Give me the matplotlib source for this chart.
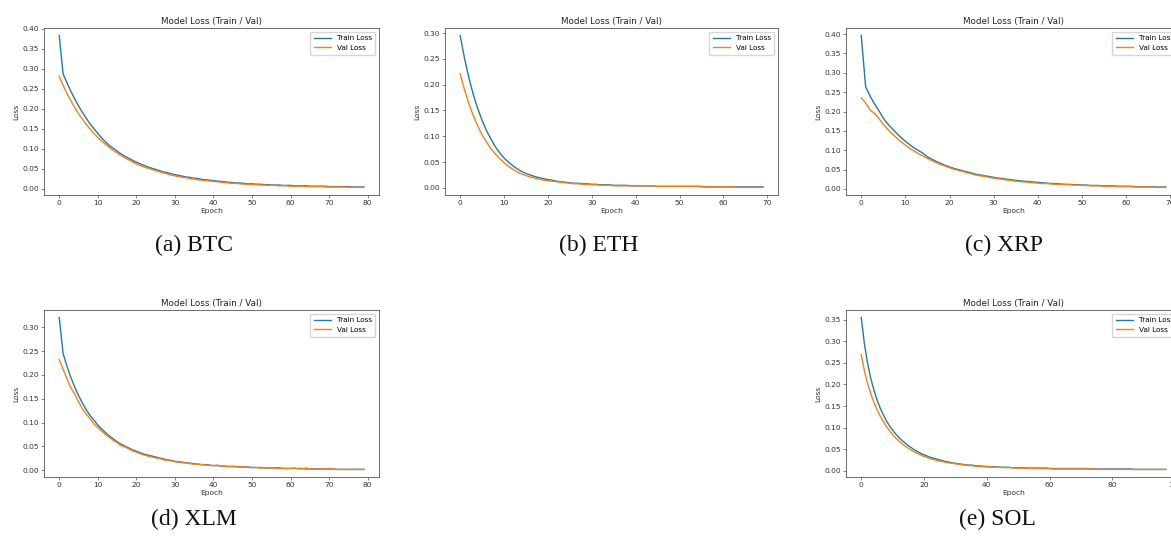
import matplotlib.pyplot as plt

# loss values, one entry per epoch
btc_train = [0.383, 0.287, 0.265, 0.244, 0.225, 0.207, 0.191, 0.176, 0.162, 0.150,
             0.138, 0.127, 0.117, 0.108, 0.101, 0.094, 0.087, 0.081, 0.076, 0.071,
             0.066, 0.062, 0.058, 0.054, 0.051, 0.048, 0.045, 0.042, 0.040, 0.037,
             0.035, 0.033, 0.031, 0.029, 0.028, 0.026, 0.025, 0.023, 0.022, 0.021,
             0.020, 0.019, 0.018, 0.017, 0.016, 0.015, 0.014, 0.014, 0.013, 0.012,
             0.012, 0.011, 0.011, 0.010, 0.010, 0.009, 0.009, 0.009, 0.008, 0.008,
             0.008, 0.007, 0.007, 0.007, 0.007, 0.006, 0.006, 0.006, 0.006, 0.006,
             0.005, 0.005, 0.005, 0.005, 0.005, 0.005, 0.004, 0.004, 0.004, 0.004]
btc_val = [0.281, 0.258, 0.238, 0.220, 0.203, 0.188, 0.174, 0.161, 0.149, 0.138,
           0.128, 0.119, 0.111, 0.103, 0.096, 0.089, 0.083, 0.077, 0.072, 0.067,
           0.062, 0.058, 0.054, 0.051, 0.048, 0.045, 0.042, 0.039, 0.037, 0.034,
           0.032, 0.030, 0.028, 0.027, 0.025, 0.024, 0.022, 0.021, 0.020, 0.019,
           0.018, 0.017, 0.016, 0.015, 0.014, 0.013, 0.013, 0.012, 0.011, 0.011,
           0.010, 0.010, 0.009, 0.009, 0.008, 0.008, 0.008, 0.007, 0.007, 0.007,
           0.006, 0.006, 0.006, 0.006, 0.005, 0.005, 0.005, 0.005, 0.005, 0.004,
           0.004, 0.004, 0.004, 0.004, 0.004, 0.003, 0.003, 0.003, 0.003, 0.003]

eth_train = [0.295, 0.251, 0.213, 0.181, 0.154, 0.131, 0.111, 0.095, 0.080, 0.068,
             0.058, 0.050, 0.043, 0.037, 0.032, 0.028, 0.025, 0.022, 0.020, 0.018,
             0.016, 0.015, 0.013, 0.012, 0.011, 0.010, 0.009, 0.009, 0.008, 0.008,
             0.007, 0.007, 0.006, 0.006, 0.006, 0.005, 0.005, 0.005, 0.005, 0.004,
             0.004, 0.004, 0.004, 0.004, 0.004, 0.003, 0.003, 0.003, 0.003, 0.003,
             0.003, 0.003, 0.003, 0.003, 0.003, 0.003, 0.002, 0.002, 0.002, 0.002,
             0.002, 0.002, 0.002, 0.002, 0.002, 0.002, 0.002, 0.002, 0.002, 0.002]
eth_val = [0.221, 0.190, 0.163, 0.140, 0.120, 0.103, 0.089, 0.076, 0.066, 0.057,
           0.049, 0.042, 0.036, 0.031, 0.027, 0.024, 0.021, 0.019, 0.017, 0.015,
           0.014, 0.013, 0.012, 0.011, 0.010, 0.009, 0.008, 0.008, 0.007, 0.007,
           0.006, 0.006, 0.005, 0.005, 0.005, 0.004, 0.004, 0.004, 0.004, 0.004,
           0.004, 0.004, 0.004, 0.004, 0.004, 0.003, 0.003, 0.003, 0.003, 0.003,
           0.003, 0.003, 0.003, 0.003, 0.003, 0.002, 0.002, 0.002, 0.002, 0.002,
           0.002, 0.002, 0.002, 0.001, 0.001, 0.001, 0.001, 0.001, 0.001, 0.001]

xrp_train = [0.396, 0.264, 0.240, 0.220, 0.202, 0.183, 0.168, 0.156, 0.144, 0.133,
             0.123, 0.114, 0.106, 0.099, 0.092, 0.083, 0.077, 0.071, 0.066, 0.061,
             0.057, 0.053, 0.050, 0.047, 0.044, 0.041, 0.038, 0.036, 0.034, 0.032,
             0.030, 0.028, 0.027, 0.025, 0.024, 0.022, 0.021, 0.020, 0.019, 0.018,
             0.017, 0.016, 0.015, 0.014, 0.014, 0.013, 0.012, 0.012, 0.011, 0.011,
             0.010, 0.010, 0.009, 0.009, 0.009, 0.008, 0.008, 0.008, 0.007, 0.007,
             0.007, 0.007, 0.006, 0.006, 0.006, 0.006, 0.006, 0.005, 0.005, 0.005]
xrp_val = [0.235, 0.222, 0.204, 0.195, 0.182, 0.167, 0.154, 0.143, 0.132, 0.122,
           0.113, 0.105, 0.098, 0.091, 0.085, 0.079, 0.073, 0.068, 0.063, 0.059,
           0.055, 0.051, 0.048, 0.045, 0.042, 0.039, 0.036, 0.034, 0.032, 0.030,
           0.028, 0.026, 0.025, 0.023, 0.022, 0.020, 0.019, 0.018, 0.017, 0.016,
           0.015, 0.014, 0.014, 0.013, 0.012, 0.012, 0.011, 0.011, 0.010, 0.010,
           0.009, 0.009, 0.008, 0.008, 0.008, 0.007, 0.007, 0.007, 0.006, 0.006,
           0.006, 0.006, 0.005, 0.005, 0.005, 0.005, 0.005, 0.004, 0.004, 0.004]

xlm_train = [0.320, 0.245, 0.218, 0.195, 0.175, 0.157, 0.141, 0.127, 0.115, 0.105,
             0.095, 0.087, 0.079, 0.072, 0.066, 0.060, 0.055, 0.051, 0.047, 0.043,
             0.040, 0.037, 0.034, 0.032, 0.030, 0.028, 0.026, 0.024, 0.022, 0.021,
             0.019, 0.018, 0.017, 0.016, 0.015, 0.014, 0.013, 0.012, 0.012, 0.011,
             0.010, 0.010, 0.009, 0.009, 0.008, 0.008, 0.008, 0.007, 0.007, 0.007,
             0.006, 0.006, 0.006, 0.005, 0.005, 0.005, 0.005, 0.005, 0.004, 0.004,
             0.004, 0.004, 0.004, 0.004, 0.003, 0.003, 0.003, 0.003, 0.003, 0.003,
             0.003, 0.003, 0.002, 0.002, 0.002, 0.002, 0.002, 0.002, 0.002, 0.002]
xlm_val = [0.232, 0.212, 0.192, 0.173, 0.160, 0.144, 0.129, 0.118, 0.108, 0.097,
           0.090, 0.082, 0.075, 0.069, 0.063, 0.058, 0.052, 0.049, 0.045, 0.041,
           0.038, 0.035, 0.032, 0.030, 0.028, 0.026, 0.025, 0.022, 0.021, 0.020,
           0.018, 0.017, 0.016, 0.015, 0.014, 0.013, 0.013, 0.012, 0.011, 0.010,
           0.010, 0.011, 0.009, 0.008, 0.008, 0.009, 0.007, 0.007, 0.007, 0.006,
           0.006, 0.006, 0.005, 0.005, 0.005, 0.006, 0.004, 0.004, 0.004, 0.004,
           0.004, 0.005, 0.003, 0.003, 0.005, 0.003, 0.003, 0.002, 0.003, 0.003,
           0.004, 0.003, 0.002, 0.002, 0.002, 0.002, 0.002, 0.002, 0.002, 0.002]

sol_train = [0.355, 0.295, 0.250, 0.215, 0.188, 0.165, 0.146, 0.130, 0.116, 0.104,
             0.094, 0.085, 0.077, 0.070, 0.064, 0.058, 0.053, 0.048, 0.044, 0.040,
             0.037, 0.034, 0.031, 0.029, 0.027, 0.025, 0.023, 0.021, 0.020, 0.018,
             0.017, 0.016, 0.015, 0.014, 0.013, 0.013, 0.012, 0.011, 0.011, 0.010,
             0.010, 0.009, 0.009, 0.009, 0.008, 0.008, 0.008, 0.008, 0.007, 0.007,
             0.007, 0.007, 0.007, 0.006, 0.006, 0.006, 0.006, 0.006, 0.006, 0.006,
             0.005, 0.005, 0.005, 0.005, 0.005, 0.005, 0.005, 0.005, 0.005, 0.005,
             0.005, 0.005, 0.005, 0.004, 0.004, 0.004, 0.004, 0.004, 0.004, 0.004,
             0.004, 0.004, 0.004, 0.004, 0.004, 0.004, 0.004, 0.003, 0.003, 0.003,
             0.003, 0.003, 0.003, 0.003, 0.003, 0.003, 0.003, 0.003]
sol_val = [0.269, 0.232, 0.203, 0.179, 0.159, 0.142, 0.127, 0.114, 0.103, 0.093,
           0.084, 0.076, 0.069, 0.063, 0.057, 0.052, 0.047, 0.043, 0.040, 0.036,
           0.033, 0.031, 0.028, 0.026, 0.024, 0.022, 0.021, 0.019, 0.018, 0.017,
           0.016, 0.015, 0.014, 0.013, 0.012, 0.012, 0.011, 0.010, 0.010, 0.009,
           0.009, 0.009, 0.008, 0.008, 0.008, 0.007, 0.007, 0.007, 0.007, 0.006,
           0.006, 0.006, 0.006, 0.006, 0.005, 0.005, 0.005, 0.005, 0.005, 0.005,
           0.005, 0.004, 0.004, 0.004, 0.004, 0.004, 0.004, 0.004, 0.004, 0.004,
           0.004, 0.004, 0.004, 0.004, 0.004, 0.003, 0.003, 0.003, 0.003, 0.003,
           0.003, 0.003, 0.003, 0.003, 0.003, 0.003, 0.003, 0.003, 0.003, 0.003,
           0.003, 0.003, 0.003, 0.003, 0.003, 0.003, 0.003, 0.003]

captions = ["(a) BTC", "(b) ETH", "(c) XRP", "(d) XLM", "(e) SOL"]
series = [(btc_train, btc_val), (eth_train, eth_val), (xrp_train, xrp_val),
          (xlm_train, xlm_val), (sol_train, sol_val)]

W, H = 1171, 541
# axes boxes in pixels: left, top, right, bottom
boxes = [(44, 28, 379, 195), (445, 28, 778, 195), (846, 28, 1181, 195),
         (44, 310, 379, 477), (846, 310, 1181, 477)]
cap_pos = [(194, 245), (599, 245), (1004, 245), (194, 519), (997, 519)]

fig = plt.figure(figsize=(W / 100, H / 100), dpi=100)

for (train, val), (l, t, r, b), cap, (cx, cy) in zip(series, boxes, captions, cap_pos):
    ax = fig.add_axes([l / W, 1 - b / H, (r - l) / W, (b - t) / H])
    ax.plot(range(len(train)), train, color="#1f77b4", lw=1.0, label="Train Loss")
    ax.plot(range(len(val)), val, color="#ff7f0e", lw=1.0, label="Val Loss")
    ax.set_title("Model Loss (Train / Val)", fontsize=6.3, color="#222222", pad=3)
    ax.set_xlabel("Epoch", fontsize=5.4, color="#333333", labelpad=1.5)
    ax.set_ylabel("Loss", fontsize=5.4, color="#333333", labelpad=2)
    ax.tick_params(labelsize=5.4, labelcolor="#333333", length=2, width=0.5,
                   pad=1.5, color="#555555")
    for s in ax.spines.values():
        s.set_linewidth(0.6)
        s.set_color("#555555")
    ax.legend(loc="upper right", fontsize=5.2, handlelength=2.4, borderpad=0.5,
              labelspacing=0.5, framealpha=0.8, edgecolor="#cccccc")
    fig.text(cx / W, 1 - cy / H, cap, ha="center", va="center",
             fontsize=17, family="Liberation Serif", color="#111111")

fig.savefig("out.png", dpi=100)
